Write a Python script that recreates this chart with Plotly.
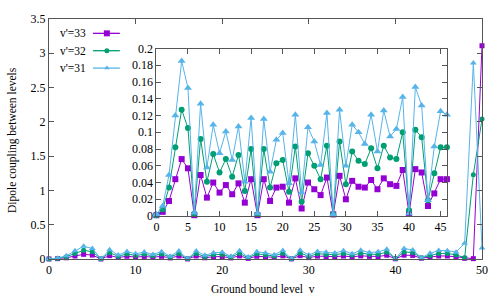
import plotly.graph_objects as go

levels = list(range(51))
v33 = [0.001, 0.005, 0.018, 0.044, 0.068, 0.057, 0.001, 0.049, 0.022, 0.040,
       0.028, 0.037, 0.026, 0.039, 0.016, 0.044, 0.001, 0.044, 0.018, 0.034,
       0.035, 0.016, 0.045, 0.009, 0.040, 0.032, 0.025, 0.046, 0.002, 0.048,
       0.020, 0.042, 0.035, 0.034, 0.043, 0.032, 0.045, 0.038, 0.036, 0.055,
       0.003, 0.056, 0.052, 0.012, 0.027, 0.044, 0.044, 0.030, 0.010, 0.005, 3.11]
v32 = [0.001, 0.008, 0.034, 0.082, 0.127, 0.105, 0.003, 0.092, 0.041, 0.074,
       0.052, 0.068, 0.047, 0.073, 0.030, 0.080, 0.002, 0.080, 0.034, 0.063,
       0.067, 0.029, 0.083, 0.017, 0.075, 0.060, 0.044, 0.084, 0.002, 0.089,
       0.038, 0.077, 0.066, 0.062, 0.081, 0.057, 0.084, 0.070, 0.068, 0.100,
       0.007, 0.103, 0.094, 0.019, 0.051, 0.082, 0.082, 0.060, 0.020, 1.23, 2.04]
v31 = [0.002, 0.012, 0.049, 0.120, 0.185, 0.153, 0.004, 0.134, 0.058, 0.109,
       0.075, 0.101, 0.067, 0.107, 0.041, 0.117, 0.003, 0.116, 0.053, 0.091,
       0.099, 0.039, 0.121, 0.028, 0.106, 0.089, 0.061, 0.123, 0.002, 0.127,
       0.060, 0.109, 0.100, 0.086, 0.121, 0.077, 0.126, 0.095, 0.104, 0.142,
       0.003, 0.154, 0.132, 0.019, 0.083, 0.125, 0.121, 0.100, 0.230, 2.86, 0.16]
inset_n = 47  # inset shows levels 0..46

series = [
    ("v'=33", v33, "#9400d3", "square", 5, 6, 6),
    ("v'=32", v32, "#009e73", "circle", 5, 6, 5),
    ("v'=31", v31, "#56b4e9", "triangle-up", 6, 7, 5),
]

FONT = "Liberation Serif"
BORDER = "#555555"

fig = go.Figure()

for name, vals, col, sym, msz, isz, lsz in series:
    fig.add_trace(go.Scatter(
        x=levels, y=vals, mode="lines+markers", name=name,
        line=dict(color=col, width=1),
        marker=dict(symbol=sym, size=msz, color=col),
        cliponaxis=False, showlegend=False, xaxis="x", yaxis="y"))
for name, vals, col, sym, msz, isz, lsz in series:
    fig.add_trace(go.Scatter(
        x=levels[:inset_n], y=vals[:inset_n], mode="lines+markers", name=name,
        line=dict(color=col, width=1),
        marker=dict(symbol=sym, size=isz, color=col),
        cliponaxis=False, showlegend=False, xaxis="x2", yaxis="y2"))

# custom gnuplot-style key (text left, sample right), on a pixel-like overlay axis
key_y = [27.7, 45.5, 63.3]
for (name, vals, col, sym, msz, isz, lsz), ky in zip(series, key_y):
    fig.add_trace(go.Scatter(
        x=[93, 120], y=[ky, ky], mode="lines", line=dict(color=col, width=1.3),
        showlegend=False, hoverinfo="skip", xaxis="x3", yaxis="y3"))
    fig.add_trace(go.Scatter(
        x=[107], y=[ky], mode="markers", marker=dict(symbol=sym, size=lsz, color=col),
        showlegend=False, hoverinfo="skip", xaxis="x3", yaxis="y3"))
    fig.add_annotation(x=88.5, y=ky, xref="x3", yref="y3", text=name, showarrow=False,
                       xanchor="right", yanchor="middle",
                       font=dict(family=FONT, size=11.5, color="black"))

axis_common = dict(showgrid=False, zeroline=False, showline=True, linecolor=BORDER,
                   linewidth=1, mirror="allticks", ticks="inside", tickcolor=BORDER,
                   tickfont=dict(family=FONT, size=12, color="black"))

fig.update_layout(
    width=500, height=300,
    margin=dict(l=49, r=17, t=13, b=41),
    paper_bgcolor="white", plot_bgcolor="white",
    xaxis=dict(domain=[0, 1], range=[0, 50], tickmode="array",
               tickvals=[0, 10, 20, 30, 40, 50], ticklen=5, **axis_common),
    yaxis=dict(domain=[0, 1], range=[0, 3.5], tickmode="array",
               tickvals=[0, 0.5, 1, 1.5, 2, 2.5, 3, 3.5],
               ticktext=["0", "0.5", "1", "1.5", "2", "2.5", "3", "3.5"],
               ticklen=5, **axis_common),
    xaxis2=dict(domain=[0.248, 0.919], range=[0, 46], anchor="y2", tickmode="array",
                tickvals=[0, 5, 10, 15, 20, 25, 30, 35, 40, 45], ticklen=5, **axis_common),
    yaxis2=dict(domain=[0.179, 0.877], range=[0, 0.2], anchor="x2", tickmode="array",
                tickvals=[0, 0.02, 0.04, 0.06, 0.08, 0.1, 0.12, 0.14, 0.16, 0.18, 0.2],
                ticktext=["0", "0.02", "0.04", "0.06", "0.08", "0.1", "0.12", "0.14",
                          "0.16", "0.18", "0.2"],
                ticklen=5, **axis_common),
    xaxis3=dict(domain=[0, 1], range=[49, 483], visible=False, anchor="y3",
                overlaying="x"),
    yaxis3=dict(domain=[0, 1], range=[259, 13], visible=False, anchor="x3",
                overlaying="y"),
    showlegend=False,
)

# white background behind the inset
fig.add_shape(type="rect", xref="x2 domain", yref="y2 domain", x0=0, x1=1, y0=0, y1=1,
              fillcolor="white", line=dict(width=0), layer="below")

fig.add_annotation(x=-0.083, y=0.496, xref="paper", yref="paper",
                   text="Dipole coupling between levels", textangle=-90,
                   showarrow=False, xanchor="center", yanchor="middle",
                   font=dict(family=FONT, size=11.5, color="black"))
fig.add_annotation(x=0.495, y=-0.126, xref="paper", yref="paper",
                   text="Ground bound level\u00a0 v", showarrow=False,
                   xanchor="center", yanchor="middle",
                   font=dict(family=FONT, size=11.5, color="black"))

fig.write_html("out.html", config={"displayModeBar": False},
               post_script="document.body.style.margin='0px';document.body.style.padding='0px';")
